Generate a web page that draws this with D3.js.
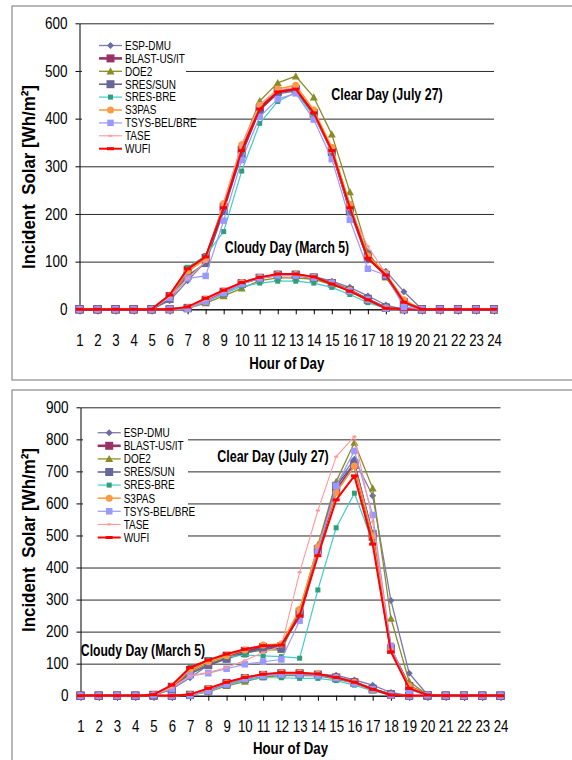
<!DOCTYPE html>
<html>
<head>
<meta charset="utf-8">
<script src="https://cdn.jsdelivr.net/npm/d3@7/dist/d3.min.js"></script>
<style>
  html, body { margin: 0; padding: 0; background: #fff; }
  svg { display: block; font-family: "Liberation Sans", Arial, sans-serif; }
</style>
</head>
<body>
<svg id="chart" width="572" height="760"></svg>
<script>
// Hour-of-day categories and axis ticks
const hours = [1,2,3,4,5,6,7,8,9,10,11,12,13,14,15,16,17,18,19,20,21,22,23,24];
const yTicksTop = [0,100,200,300,400,500,600];
const yTicksBottom = [0,100,200,300,400,500,600,700,800,900];

const programs = ["ESP-DMU","BLAST-US/IT","DOE2","SRES/SUN","SRES-BRE","S3PAS","TSYS-BEL/BRE","TASE","WUFI"];

// Upper chart: clear day (July 27), Wh/m2 per hour
const topClearEsp   = [0,0,0,0,0,18,60,100,208,328,418,452,458,408,330,205,103,80,37,0,0,0,0,0];
const topClearBlast = [0,0,0,0,0,28,83,108,215,335,422,458,462,410,335,213,108,72,15,0,0,0,0,0];
const topClearDoe2  = [0,0,0,0,0,20,78,108,220,342,437,475,489,445,367,246,120,67,12,0,0,0,0,0];
const topClearSun   = [0,0,0,0,0,22,70,97,207,325,418,455,460,412,330,205,115,70,12,0,0,0,0,0];
const topClearBre   = [0,0,0,0,0,25,88,113,163,290,390,436,455,405,335,222,110,72,12,0,0,0,0,0];
const topClearS3pas = [0,0,0,0,0,28,80,105,222,345,428,462,470,418,340,220,112,75,20,0,0,0,0,0];
const topClearTsys  = [0,0,0,0,0,24,65,70,186,313,404,441,453,398,315,188,85,72,5,0,0,0,0,0];
const topClearTase  = [0,0,0,0,0,26,65,100,225,345,430,460,465,412,330,210,132,75,15,0,0,0,0,0];
const topClearWufi  = [0,0,0,0,0,30,85,110,213,333,420,456,462,412,333,213,107,72,15,0,0,0,0,0];

// Upper chart: cloudy day (March 5)
const topCloudyEsp   = [0,0,0,0,0,0,2,18,33,55,67,74,74,69,59,46,28,9,0,0,0,0,0,0];
const topCloudyBlast = [0,0,0,0,0,0,3,20,37,55,66,72,72,66,55,40,20,3,0,0,0,0,0,0];
const topCloudyDoe2  = [0,0,0,0,0,0,2,13,28,44,60,66,66,63,52,38,18,3,0,0,0,0,0,0];
const topCloudySun   = [0,0,0,0,0,0,2,17,34,53,66,73,73,67,55,40,22,4,0,0,0,0,0,0];
const topCloudyBre   = [0,0,0,0,0,0,2,16,32,48,55,59,59,55,46,31,14,2,0,0,0,0,0,0];
const topCloudyS3pas = [0,0,0,0,0,0,3,21,38,56,67,73,73,67,55,40,20,3,0,0,0,0,0,0];
const topCloudyTsys  = [0,0,0,0,0,0,1,16,34,53,65,71,71,66,55,38,20,2,0,0,0,0,0,0];
const topCloudyTase  = [0,0,0,0,0,0,3,20,38,55,66,72,72,66,54,38,19,3,0,0,0,0,0,0];
const topCloudyWufi  = [0,0,0,0,0,0,5,23,40,56,67,74,74,68,53,38,20,2,0,0,0,0,0,0];

// Lower chart: clear day (July 27)
const botClearEsp   = [0,0,0,0,2,20,56,96,117,135,148,150,265,462,660,738,624,297,70,3,0,0,0,0];
const botClearBlast = [0,0,0,0,3,28,80,108,125,140,152,155,255,455,640,720,496,143,30,2,0,0,0,0];
const botClearDoe2  = [0,0,0,0,2,20,72,100,118,133,143,143,258,470,668,790,647,241,44,3,0,0,0,0];
const botClearSun   = [0,0,0,0,2,22,68,95,115,133,148,148,262,458,655,725,505,148,28,2,0,0,0,0];
const botClearBre   = [0,0,0,0,3,30,88,113,120,127,124,122,117,330,524,632,479,140,25,2,0,0,0,0];
const botClearS3pas = [0,0,0,0,3,28,80,106,125,143,158,161,270,465,634,717,498,143,30,2,0,0,0,0];
const botClearTsys  = [0,0,0,0,2,22,62,70,84,98,106,113,234,450,655,764,564,156,18,2,0,0,0,0];
const botClearTase  = [0,0,0,0,2,25,62,72,88,110,135,155,385,578,746,809,543,145,25,2,0,0,0,0];
const botClearWufi  = [0,0,0,0,3,33,88,111,130,145,156,158,249,437,611,686,473,137,23,2,0,0,0,0];

// Lower chart: cloudy day (March 5)
const botCloudyEsp   = [0,0,0,0,0,0,2,15,33,50,62,68,70,66,64,49,33,10,0,0,0,0,0,0];
const botCloudyBlast = [0,0,0,0,0,0,3,20,40,55,65,70,70,66,57,42,20,3,0,0,0,0,0,0];
const botCloudyDoe2  = [0,0,0,0,0,0,2,12,31,44,58,63,63,62,52,40,18,3,0,0,0,0,0,0];
const botCloudySun   = [0,0,0,0,0,0,2,16,36,52,63,68,68,64,55,40,22,5,0,0,0,0,0,0];
const botCloudyBre   = [0,0,0,0,0,0,2,14,33,48,56,56,54,54,47,33,15,2,0,0,0,0,0,0];
const botCloudyS3pas = [0,0,0,0,0,0,3,21,40,56,66,71,71,67,57,42,20,3,0,0,0,0,0,0];
const botCloudyTsys  = [0,0,0,0,0,0,1,14,35,52,62,66,66,63,55,38,20,2,0,0,0,0,0,0];
const botCloudyTase  = [0,0,0,0,0,0,3,20,40,55,65,70,70,66,56,40,19,3,0,0,0,0,0,0];
const botCloudyWufi  = [0,0,0,0,0,0,4,23,42,57,67,72,72,68,57,42,20,2,0,0,0,0,0,0];

const topClear  = [topClearEsp, topClearBlast, topClearDoe2, topClearSun, topClearBre, topClearS3pas, topClearTsys, topClearTase, topClearWufi];
const topCloudy = [topCloudyEsp, topCloudyBlast, topCloudyDoe2, topCloudySun, topCloudyBre, topCloudyS3pas, topCloudyTsys, topCloudyTase, topCloudyWufi];
const botClear  = [botClearEsp, botClearBlast, botClearDoe2, botClearSun, botClearBre, botClearS3pas, botClearTsys, botClearTase, botClearWufi];
const botCloudy = [botCloudyEsp, botCloudyBlast, botCloudyDoe2, botCloudySun, botCloudyBre, botCloudyS3pas, botCloudyTsys, botCloudyTase, botCloudyWufi];

// Line and marker styling per program
const styles = {
  "ESP-DMU":      { line: "#7b7bb0", width: 1.3, shape: "diamond",  fill: "#6b6ba8", size: 7 },
  "BLAST-US/IT":  { line: "#993366", width: 2.6, shape: "square",   fill: "#993366", size: 8 },
  "DOE2":         { line: "#8c8c26", width: 1.3, shape: "triangle", fill: "#8c8c26", size: 8 },
  "SRES/SUN":     { line: "#5c5c94", width: 1.5, shape: "square",   fill: "#666699", size: 8 },
  "SRES-BRE":     { line: "#40cccc", width: 1.2, shape: "square",   fill: "#2f9e7a", size: 5 },
  "S3PAS":        { line: "#ff9933", width: 1.5, shape: "circle",   fill: "#ff9944", size: 7 },
  "TSYS-BEL/BRE": { line: "#9999ff", width: 1.2, shape: "square",   fill: "#9999ff", size: 6.5 },
  "TASE":         { line: "#ff9999", width: 1.1, shape: "dash",     fill: "#ff9999", size: 4 },
  "WUFI":         { line: "#ff0000", width: 2.0, shape: "dash",     fill: "#ff0000", size: 7 }
};

const SQ = 0.82; // horizontal squeeze of the lettering
const svg = d3.select("#chart");

function marker(g, shape, size, fill, cx, cy) {
  const s = size / 2;
  if (shape === "square") {
    g.append("rect").attr("x", cx - s).attr("y", cy - s).attr("width", size).attr("height", size).attr("fill", fill);
  } else if (shape === "diamond") {
    g.append("path").attr("d", `M${cx},${cy - s}L${cx + s},${cy}L${cx},${cy + s}L${cx - s},${cy}Z`).attr("fill", fill);
  } else if (shape === "triangle") {
    g.append("path").attr("d", `M${cx},${cy - s}L${cx + s},${cy + s * 0.8}L${cx - s},${cy + s * 0.8}Z`).attr("fill", fill);
  } else if (shape === "circle") {
    g.append("circle").attr("cx", cx).attr("cy", cy).attr("r", s).attr("fill", fill);
  } else if (shape === "dash") {
    g.append("rect").attr("x", cx - s).attr("y", cy - (size > 5 ? 1.5 : 1)).attr("width", size).attr("height", size > 5 ? 3 : 2).attr("fill", fill);
  }
}

function narrowText(g, x, y, text, opts) {
  return g.append("text")
    .attr("transform", `translate(${x},${y}) scale(${opts.squeeze || SQ},1)`)
    .attr("text-anchor", opts.anchor || "start")
    .attr("dy", "0.35em")
    .attr("font-size", opts.size)
    .attr("font-weight", opts.weight || "normal")
    .attr("fill", "#000")
    .text(text);
}

function drawPanel(p) {
  const g = svg.append("g");

  // panel frame
  g.append("rect").attr("x", p.frame[0]).attr("y", p.frame[1]).attr("width", p.frame[2]).attr("height", p.frame[3])
    .attr("fill", "none").attr("stroke", "#8a8a8a").attr("stroke-width", 1.2);

  const x = d3.scalePoint().domain(hours).range([p.left, p.right]);
  const y = d3.scaleLinear().domain([0, p.yMax]).range([p.bottom, p.top]);

  // horizontal gridlines
  g.append("g").attr("transform", `translate(${p.left},0)`)
    .call(d3.axisLeft(y).tickValues(p.yTicks).tickSize(-(p.right - p.left)).tickFormat(""))
    .call(a => a.select(".domain").remove())
    .call(a => a.selectAll(".tick line").attr("stroke", "#2a2a2a").attr("stroke-width", 1));

  // value axis with labels
  const ya = g.append("g").attr("transform", `translate(${p.left},0)`)
    .call(d3.axisLeft(y).tickValues(p.yTicks).tickSize(4).tickSizeOuter(0).tickPadding(8));
  ya.select(".domain").attr("stroke", "#000");
  ya.selectAll(".tick line").attr("stroke", "#000");
  ya.selectAll(".tick text")
    .attr("font-size", 16.5).attr("font-family", "Liberation Sans, Arial, sans-serif").attr("fill", "#000")
    .attr("x", -12 / SQ).attr("transform", `scale(${SQ},1)`);

  // category axis
  const xa = g.append("g").attr("transform", `translate(0,${p.bottom})`)
    .call(d3.axisBottom(x).tickSize(5).tickSizeOuter(0).tickPadding(20));
  xa.select(".domain").attr("stroke", "#000");
  xa.selectAll(".tick line").attr("stroke", "#000");
  xa.selectAll(".tick text")
    .attr("font-size", 16.5).attr("font-family", "Liberation Sans, Arial, sans-serif").attr("fill", "#000")
    .attr("transform", `scale(0.8,1)`);

  // axis titles
  narrowText(g, (p.left + p.right) / 2, p.xTitleY, "Hour of Day", { anchor: "middle", size: 17, weight: "bold", squeeze: 0.78 });
  g.append("text")
    .attr("transform", `translate(${p.yTitleX},${p.yTitleY}) rotate(-90) scale(0.89,1)`)
    .attr("text-anchor", "middle").attr("dy", "0.35em")
    .attr("font-size", 19).attr("font-weight", "bold").style("white-space", "pre")
    .text("Incident  Solar [Wh/m²]");

  // data lines and markers
  const line = d3.line().x((d, i) => x(hours[i])).y(d => y(d));
  [p.cloudy, p.clear].forEach(day => {
    day.forEach((vals, k) => {
      const st = styles[programs[k]];
      const sg = g.append("g");
      sg.append("path").attr("d", line(vals)).attr("fill", "none")
        .attr("stroke", st.line).attr("stroke-width", st.width).attr("stroke-linejoin", "round");
      vals.forEach((v, i) => marker(sg, st.shape, st.size, st.fill, x(hours[i]), y(v)));
    });
  });

  // legend
  const lg = g.append("g");
  lg.append("rect").attr("x", p.legend.x0).attr("y", p.legend.y0).attr("width", p.legend.w).attr("height", p.legend.h).attr("fill", "#fff");
  programs.forEach((name, k) => {
    const st = styles[name];
    const yy = p.legend.row0 + k * p.legend.step;
    lg.append("line").attr("x1", p.legend.lx).attr("x2", p.legend.lx + 23).attr("y1", yy).attr("y2", yy)
      .attr("stroke", st.line).attr("stroke-width", st.width);
    marker(lg, st.shape, st.size, st.fill, p.legend.lx + 11.5, yy);
    narrowText(lg, p.legend.lx + 26, yy, name, { size: 12.5, squeeze: 0.8 });
  });

  // day annotations
  narrowText(g, p.clearLabel[0], p.clearLabel[1], "Clear Day (July 27)", { anchor: "middle", size: 16, weight: "bold", squeeze: 0.78 });
  narrowText(g, p.cloudyLabel[0], p.cloudyLabel[1], "Cloudy Day (March 5)", { anchor: "middle", size: 16, weight: "bold", squeeze: 0.76 });
}

drawPanel({
  frame: [12, 6, 620, 374],
  left: 79.5, right: 494, top: 23.3, bottom: 309.3,
  yMax: 600, yTicks: yTicksTop,
  xTitleY: 363, yTitleX: 28, yTitleY: 177,
  clear: topClear, cloudy: topCloudy,
  legend: { x0: 82, y0: 36, w: 104, h: 122, lx: 99, row0: 45.5, step: 12.9 },
  clearLabel: [387, 94], cloudyLabel: [287, 247]
});

drawPanel({
  frame: [12, 390, 620, 400],
  left: 80.5, right: 500.5, top: 407.3, bottom: 695.7,
  yMax: 900, yTicks: yTicksBottom,
  xTitleY: 748, yTitleX: 28, yTitleY: 540,
  clear: botClear, cloudy: botCloudy,
  legend: { x0: 83, y0: 424, w: 105, h: 122, lx: 97.7, row0: 432.7, step: 13.1 },
  clearLabel: [273, 456], cloudyLabel: [143, 650]
});
</script>
</body>
</html>
